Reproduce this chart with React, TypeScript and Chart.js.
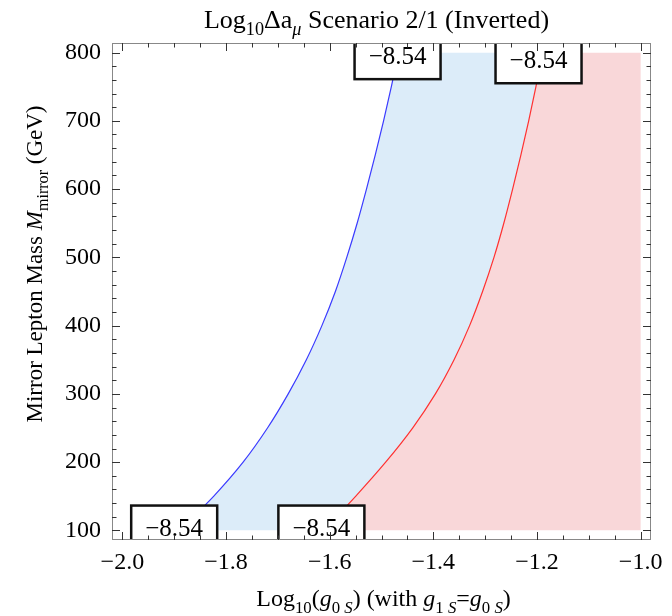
import React, { useEffect, useRef } from 'react';
import { Chart, registerables } from 'chart.js';

Chart.register(...registerables);

// Contours of Log10 Δa_mu = -8.54 at common mass levels
const massLevels = [100, 150, 200, 250, 300, 350, 400, 450, 500, 550, 600, 650, 700, 750, 800];
const blueX = [-1.890, -1.824, -1.767, -1.720, -1.680, -1.645, -1.615, -1.589, -1.567, -1.547, -1.529, -1.512, -1.496, -1.481, -1.467];
const redX = [-1.612, -1.550, -1.492, -1.440, -1.396, -1.360, -1.330, -1.305, -1.283, -1.264, -1.247, -1.231, -1.216, -1.202, -1.189];

const regionRight = -1.0;

const xMin = -2.02;
const xMax = -0.98;
const yMin = 86;
const yMax = 814;

const xTicks = [-2.0, -1.8, -1.6, -1.4, -1.2, -1.0];
const xMinorTicks = [-1.95, -1.9, -1.85, -1.75, -1.7, -1.65, -1.55, -1.5, -1.45, -1.35, -1.3, -1.25, -1.15, -1.1, -1.05];
const yTicks = [100, 200, 300, 400, 500, 600, 700, 800];
const yMinorTicks = [120, 140, 160, 180, 220, 240, 260, 280, 320, 340, 360, 380, 420, 440, 460, 480, 520, 540, 560, 580, 620, 640, 660, 680, 720, 740, 760, 780];

const labelText = '\u22128.54';
const labelX = [-1.469, -1.197, -1.900, -1.616];
const labelY = [794, 788, 103.5, 103.5];

type Seg = { t: string; it?: boolean; sub?: boolean };
const titleSegs: Seg[] = [
  { t: 'Log' }, { t: '10', sub: true }, { t: '\u0394a' }, { t: '\u03BC', sub: true, it: true },
  { t: ' Scenario 2/1 (Inverted)' },
];
const xTitleSegs: Seg[] = [
  { t: 'Log' }, { t: '10', sub: true }, { t: '(' }, { t: 'g', it: true }, { t: '0', sub: true },
  { t: ' S', sub: true, it: true }, { t: ') (with ' }, { t: 'g', it: true }, { t: '1', sub: true },
  { t: ' S', sub: true, it: true }, { t: '=' }, { t: 'g', it: true }, { t: '0', sub: true },
  { t: ' S', sub: true, it: true }, { t: ')' },
];
const yTitleSegs: Seg[] = [
  { t: 'Mirror Lepton Mass ' }, { t: 'M', it: true }, { t: 'mirror', sub: true }, { t: ' (GeV)' },
];

const FONT = '"Liberation Serif", "DejaVu Serif", serif';

function segFont(s: Seg, size: number) {
  const sz = s.sub ? size * 0.7 : size;
  return `${s.it ? 'italic ' : ''}${sz}px ${FONT}`;
}

function drawRich(ctx: CanvasRenderingContext2D, segs: Seg[], cx: number, baseline: number, size: number) {
  let total = 0;
  for (const s of segs) {
    ctx.font = segFont(s, size);
    total += ctx.measureText(s.t).width;
  }
  let x = cx - total / 2;
  ctx.textAlign = 'left';
  ctx.textBaseline = 'alphabetic';
  ctx.fillStyle = '#000';
  for (const s of segs) {
    ctx.font = segFont(s, size);
    ctx.fillText(s.t, x, baseline + (s.sub ? size * 0.28 : 0));
    x += ctx.measureText(s.t).width;
  }
}

const pts = (xs: number[], ys: number[]) => xs.map((v, i) => ({ x: v, y: ys[i] }));

const overlayPlugin = {
  id: 'overlay',
  afterDatasetsDraw(chart: any) {
    const { ctx, chartArea: a, scales } = chart;
    const xs = scales.x;
    const ys = scales.y;
    // contour labels
    ctx.save();
    ctx.beginPath();
    ctx.rect(a.left, a.top, a.right - a.left, a.bottom - a.top);
    ctx.clip();
    for (let i = 0; i < labelX.length; i++) {
      const cx = xs.getPixelForValue(labelX[i]);
      const cy = ys.getPixelForValue(labelY[i]);
      ctx.fillStyle = '#fff';
      ctx.fillRect(cx - 43, cy - 22.5, 86, 45);
      ctx.strokeStyle = '#111';
      ctx.lineWidth = 2.5;
      ctx.strokeRect(cx - 43, cy - 22.5, 86, 45);
      ctx.fillStyle = '#000';
      ctx.font = `25px ${FONT}`;
      ctx.textAlign = 'center';
      ctx.textBaseline = 'middle';
      ctx.fillText(labelText, cx, cy + 1);
    }
    ctx.restore();

    // frame and ticks
    ctx.save();
    ctx.strokeStyle = '#888';
    ctx.lineWidth = 1;
    ctx.strokeRect(a.left + 0.5, a.top + 0.5, a.right - a.left - 1, a.bottom - a.top - 1);
    ctx.strokeStyle = '#333';
    const drawX = (vals: number[], len: number) => {
      for (const v of vals) {
        const p = Math.round(xs.getPixelForValue(v)) + 0.5;
        ctx.beginPath();
        ctx.moveTo(p, a.bottom);
        ctx.lineTo(p, a.bottom - len);
        ctx.moveTo(p, a.top);
        ctx.lineTo(p, a.top + len);
        ctx.stroke();
      }
    };
    const drawY = (vals: number[], len: number) => {
      for (const v of vals) {
        const p = Math.round(ys.getPixelForValue(v)) + 0.5;
        ctx.beginPath();
        ctx.moveTo(a.left, p);
        ctx.lineTo(a.left + len, p);
        ctx.moveTo(a.right, p);
        ctx.lineTo(a.right - len, p);
        ctx.stroke();
      }
    };
    drawX(xTicks, 8);
    drawX(xMinorTicks, 4.5);
    drawY(yTicks, 8);
    drawY(yMinorTicks, 4.5);
    ctx.restore();
  },
  afterDraw(chart: any) {
    const { ctx, chartArea: a } = chart;
    ctx.save();
    const midX = (a.left + a.right) / 2;
    drawRich(ctx, titleSegs, midX - 5, 28, 26);
    drawRich(ctx, xTitleSegs, midX + 2, 606, 24);
    ctx.translate(34, 264);
    ctx.rotate(-Math.PI / 2);
    drawRich(ctx, yTitleSegs, 0, 8, 23);
    ctx.restore();
  },
};

export default function App() {
  const ref = useRef<HTMLCanvasElement | null>(null);
  useEffect(() => {
    if (!ref.current) return;
    const chart = new Chart(ref.current, {
      type: 'line',
      data: {
        datasets: [
          {
            data: pts(blueX, massLevels), borderColor: '#3a3aff', borderWidth: 1.2, pointRadius: 0,
            backgroundColor: 'rgb(220,236,249)', fill: '+1', cubicInterpolationMode: 'monotone',
          },
          {
            data: pts(redX, massLevels), borderColor: '#ff3030', borderWidth: 1.2, pointRadius: 0,
            backgroundColor: 'rgb(249,215,217)', fill: { value: regionRight }, cubicInterpolationMode: 'monotone',
          },
        ] as any,
      },
      options: {
        animation: false,
        responsive: false,
        devicePixelRatio: 1,
        indexAxis: 'y',
        layout: { padding: { top: 43, right: 21, left: 0, bottom: 0 } },
        plugins: {
          legend: { display: false }, tooltip: { enabled: false }, title: { display: false },
          filler: { drawTime: 'beforeDatasetsDraw' },
        },
        events: [],
        scales: {
          x: {
            type: 'linear', min: xMin, max: xMax,
            grid: { display: false, drawTicks: false },
            border: { display: false },
            afterBuildTicks: (s: any) => { s.ticks = xTicks.map((v) => ({ value: v })); },
            afterFit: (s: any) => { s.height = 76; },
            ticks: {
              autoSkip: false, maxRotation: 0, padding: 8, color: '#000',
              font: { family: FONT, size: 24 },
              callback: (v: any) => Number(v).toFixed(1).replace('-', '\u2212'),
            },
          },
          y: {
            type: 'linear', min: yMin, max: yMax,
            grid: { display: false, drawTicks: false },
            border: { display: false },
            afterBuildTicks: (s: any) => { s.ticks = yTicks.map((v) => ({ value: v })); },
            afterFit: (s: any) => { s.width = 112; },
            ticks: {
              autoSkip: false, padding: 11, color: '#000',
              font: { family: FONT, size: 24 },
              callback: (v: any) => String(v),
            },
          },
        },
      } as any,
      plugins: [overlayPlugin],
    });
    return () => chart.destroy();
  }, []);
  return (
    <div style={{ position: 'absolute', left: 0, top: 0, width: 672, height: 616, background: '#fff' }}>
      <canvas ref={ref} width={672} height={616} style={{ width: 672, height: 616 }} />
    </div>
  );
}
